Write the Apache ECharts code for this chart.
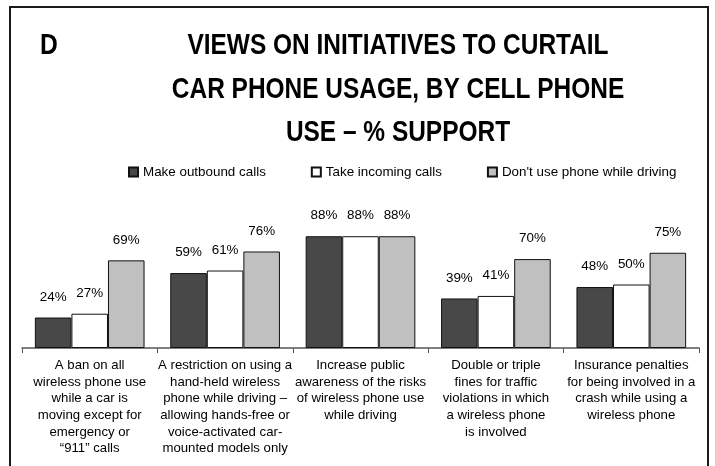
<!DOCTYPE html>
<html>
<head>
<meta charset="utf-8">
<script src="https://cdn.jsdelivr.net/npm/echarts@6/dist/echarts.min.js"></script>
<style>
html,body{margin:0;padding:0;background:#fff;}
#chart{width:715px;height:466px;}
</style>
</head>
<body>
<div id="chart"></div>
<script>
const panelLetter = 'D';
const titleLines = ['VIEWS ON INITIATIVES TO CURTAIL', 'CAR PHONE USAGE, BY CELL PHONE', 'USE \u2013 % SUPPORT'];
const categories = [
  'A ban on all\nwireless phone use\nwhile a car is\nmoving except for\nemergency or\n\u201C911\u201D calls',
  'A restriction on using a\nhand-held wireless\nphone while driving \u2013\nallowing hands-free or\nvoice-activated car-\nmounted models only',
  'Increase public\nawareness of the risks\nof wireless phone use\nwhile driving',
  'Double or triple\nfines for traffic\nviolations in which\na wireless phone\nis involved',
  'Insurance penalties\nfor being involved in a\ncrash while using a\nwireless phone'
];
const seriesNames = ['Make outbound calls', 'Take incoming calls', "Don't use phone while driving"];
const outbound = [24, 59, 88, 39, 48];
const incoming = [27, 61, 88, 41, 50];
const noPhone = [69, 76, 88, 70, 75];

const FONT = "'Liberation Sans', Arial, sans-serif";
const colors = ['#484848', '#ffffff', '#c0c0c0'];
const seriesData = [outbound, incoming, noPhone];

const titleY = [46, 89.7, 133];
const titleGraphics = titleLines.map((t, i) => ({
  type: 'text', x: 398, y: titleY[i], scaleX: 0.815, scaleY: 1, silent: true,
  style: {text: t, font: "bold 30px " + FONT, fill: '#000', textAlign: 'center', textVerticalAlign: 'middle'}
}));

const chart = echarts.init(document.getElementById('chart'), null, {renderer: 'canvas'});
chart.setOption({
  animation: false,
  backgroundColor: '#fff',
  graphic: [{
    type: 'rect',
    shape: {x: 10, y: 7, width: 698, height: 520},
    style: {fill: 'none', stroke: '#1a1a1a', lineWidth: 2},
    silent: true
  }, {
    type: 'text', x: 40, y: 46, scaleX: 0.82, scaleY: 1, silent: true,
    style: {text: panelLetter, font: "bold 30px " + FONT, fill: '#000', textAlign: 'left', textVerticalAlign: 'middle'}
  }].concat(titleGraphics),
  legend: {
    left: 128, top: 164, padding: 0,
    itemWidth: 9, itemHeight: 9, itemGap: 45,
    icon: 'rect',
    textStyle: {fontFamily: FONT, fontSize: 13.4, color: '#000', lineHeight: 16, padding: [0,0,0,0]},
    data: seriesNames
  },
  grid: {left: 22, right: 16, top: 221, bottom: 118, containLabel: false},
  xAxis: {
    type: 'category', data: categories,
    axisLine: {lineStyle: {color: '#555', width: 1.5}},
    axisTick: {show: true, length: 5, lineStyle: {color: '#555'}},
    axisLabel: {interval: 0, margin: 9, fontFamily: FONT, fontSize: 13.2, lineHeight: 16.7, color: '#000', align: 'center', verticalAlign: 'top'}
  },
  yAxis: {type: 'value', min: 0, max: 100, show: false, splitLine: {show: false}},
  series: seriesNames.map((name, i) => ({
    name, type: 'bar', data: seriesData[i],
    barGap: '0%', barCategoryGap: '19%',
    itemStyle: {color: colors[i], borderColor: '#111', borderWidth: 1},
    label: {show: true, position: 'top', distance: 14, formatter: '{c}%', fontFamily: FONT, fontSize: 13.4, color: '#000'}
  }))
});
</script>
</body>
</html>
